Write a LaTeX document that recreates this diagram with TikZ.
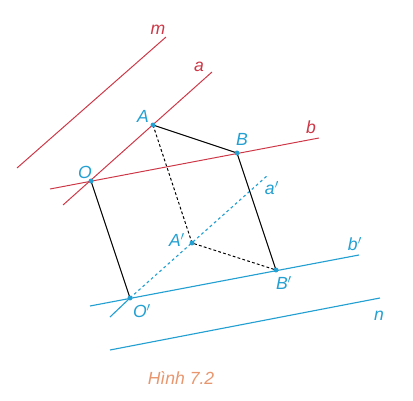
\documentclass[tikz,border=0pt]{standalone}
\usepackage{fontspec}
\setmainfont{Liberation Sans}
\usetikzlibrary{calc}
\definecolor{redline}{RGB}{205,55,70}
\definecolor{blueline}{RGB}{35,160,210}
\definecolor{capcol}{RGB}{232,150,110}
\tikzset{
  pt/.style={circle,fill=blueline,inner sep=0pt,minimum size=3.5pt},
  lbl/.style={text=blueline,font=\fontsize{12.5}{14}\selectfont\itshape},
  rlbl/.style={text=redline,font=\fontsize{12.5}{14}\selectfont\itshape}
}

\begin{document}
\begin{tikzpicture}[x=0.025cm,y=-0.025cm]
			%%%%% START %%%%%
			\useasboundingbox (0,0) rectangle (413,400);
			
			\coordinate (O) at (91,181);
			\coordinate (A) at (153,125);
			\coordinate (B) at (237,153);
			\coordinate (O') at (130,298);
			\coordinate (A') at (192,243);
			\coordinate (B') at (276,270);
			
			% red lines
			\coordinate (m1) at (17,168);
			\coordinate (m2) at (166,37);
			\draw[redline, line width=0.7pt] (m1) -- (m2);
			\coordinate (a1) at (63,205);
			\coordinate (a2) at (212,72);
			\draw[redline, line width=0.7pt] (a1) -- (a2);
			\coordinate (b1) at (50,189);
			\coordinate (b2) at (319,138);
			\draw[redline, line width=0.7pt] (b1) -- (b2);
			
			% blue lines
			\coordinate (bb1) at (90,306);
			\coordinate (bb2) at (359,255);
			\draw[blueline, line width=0.8pt] (bb1) -- (bb2);
			\coordinate (n1) at (110,350);
			\coordinate (n2) at (380,298);
			\draw[blueline, line width=0.8pt] (n1) -- (n2);
			\coordinate (aa1) at (110,317);
			\coordinate (aa2) at (268,175);
			\draw[blueline, line width=0.8pt] (aa1) -- (O');
			\draw[blueline, line width=0.8pt, dash pattern=on 2pt off 2pt] (O') -- (aa2);
			
			% black segments
			\draw[line width=0.7pt] (O) -- (O');
			\draw[line width=0.7pt] (A) -- (B) -- (B');
			\draw[line width=0.7pt, dash pattern=on 2pt off 1.6pt] (A) -- (A') -- (B');
			
			% points
			\foreach \p in {O,A,B,O',A',B'}
				\node[pt] (p\p) at (\p) {};
			
			% labels
			\node[lbl] (lA) at (143,116) {A};
			\node[lbl] (lB) at (242,139) {B};
			\node[lbl] (lO) at (85,172) {O};
			\node[lbl] (lA') at (177,240) {A$'$};
			\node[lbl] (lB') at (284,283) {B$'$};
			\node[lbl] (lO') at (142,311) {O$'$};
			\node[lbl] (la') at (272,188) {a$'$};
			\node[lbl] (lb') at (355,244) {b$'$};
			\node[lbl] (ln) at (379,316) {n};
			\node[rlbl] (lm) at (158,30) {m};
			\node[rlbl] (la) at (199,67) {a};
			\node[rlbl] (lb) at (311,127) {b};
			
			\node[text=capcol, font=\fontsize{12.5}{14}\selectfont\itshape] (cap) at (181,378) {Hình 7.2};
			%%%%% END %%%%%
\end{tikzpicture}
\end{document}
